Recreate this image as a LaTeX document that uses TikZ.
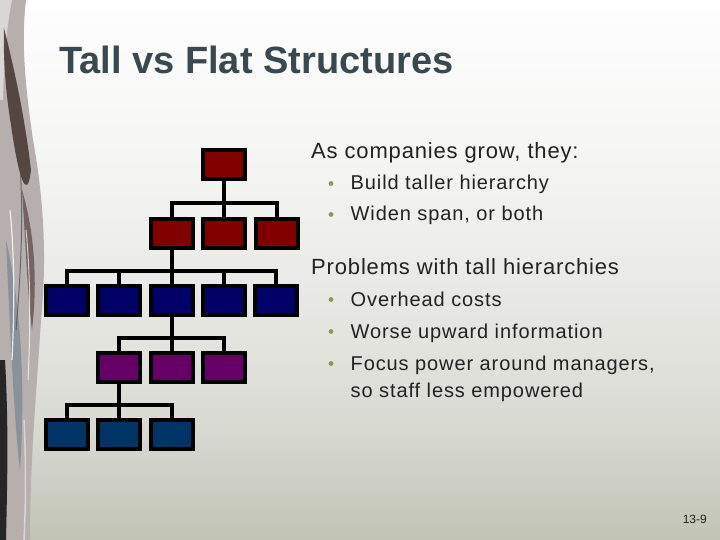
\documentclass[tikz,border=0pt]{standalone}
\usepackage{fontspec}
\setmainfont{Liberation Sans}
\newfontfamily\levelone[LetterSpace=3.8]{Liberation Sans}
\newfontfamily\leveltwo[LetterSpace=4.5]{Liberation Sans}
\definecolor{bg0}{HTML}{C2C4B6}
\definecolor{bg1}{HTML}{CDCFC4}
\definecolor{bg2}{HTML}{D6D8D0}
\definecolor{bg3}{HTML}{E2E3DD}
\definecolor{bg4}{HTML}{EDEDEA}
\definecolor{bg5}{HTML}{F8F8F7}
\definecolor{bg6}{HTML}{FEFEFE}
\definecolor{titlecol}{HTML}{3A494F}
\definecolor{textcol}{HTML}{222222}
\definecolor{bulletcol}{HTML}{8A9A52}
\definecolor{redbox}{HTML}{800000}
\definecolor{navybox}{HTML}{000066}
\definecolor{purplebox}{HTML}{660066}
\definecolor{bluebox}{HTML}{003366}
\definecolor{silver}{HTML}{B7AEAE}
\definecolor{darkstreak}{HTML}{46342F}
\definecolor{bluestreak}{HTML}{6C7F8C}
\pgfdeclareverticalshading{slidebg}{100bp}{color(0bp)=(bg0); color(25bp)=(bg0); color(30.6bp)=(bg1); color(34.3bp)=(bg2); color(42.6bp)=(bg3); color(51.9bp)=(bg4); color(63.9bp)=(bg5); color(75bp)=(bg6); color(100bp)=(bg6)}
\begin{document}
\begin{tikzpicture}[x=1pt,y=-1pt,
  box/.style={draw=black, line width=4pt, minimum width=42pt, minimum height=29pt, inner sep=0pt},
  link/.style={draw=black, line width=4.3pt, line join=miter},
  lone/.style={anchor=base west, inner sep=0pt, text=textcol, font=\levelone\fontsize{22}{26}\selectfont},
  ltwo/.style={anchor=base west, inner sep=0pt, text=textcol, font=\leveltwo\fontsize{20}{24}\selectfont},
  dot/.style={fill=bulletcol}]
\useasboundingbox (0,0) rectangle (720,540);
\shade[shading=slidebg] (0,0) rectangle (720,540);
% left decorative strip
\fill[silver] (0,0) -- (26,0) .. controls (21,40) and (25,85) .. (33,140) .. controls (44,200) and (47,260) .. (41,320) .. controls (36,400) and (30,460) .. (30,540) -- (0,540) -- cycle;
\fill[white,opacity=0.5] (0,0) -- (12,0) .. controls (6,30) and (4,60) .. (3,100) -- (0,100) -- cycle;
\fill[darkstreak,opacity=0.85] (4,28) .. controls (12,60) and (24,110) .. (31,170) .. controls (27,205) and (18,175) .. (11,125) .. controls (6,95) and (3,60) .. cycle;
\fill[darkstreak,opacity=0.6] (22,190) .. controls (34,230) and (38,280) .. (32,330) .. controls (28,300) and (26,250) .. cycle;
\fill[bluestreak,opacity=0.6] (6,240) .. controls (20,300) and (26,380) .. (20,470) .. controls (14,420) and (10,330) .. cycle;
\fill[black!85] (0,360) -- (5,360) .. controls (9,430) and (7,490) .. (6,540) -- (0,540) -- cycle;
\draw[white,line width=1.2pt,opacity=0.8] (10,210) .. controls (14,250) and (15,300) .. (12,360);
\draw[white,line width=1pt,opacity=0.7] (26,230) .. controls (30,270) and (31,320) .. (28,380);
\draw[black!70,line width=1pt,opacity=0.7] (18,140) .. controls (24,200) and (22,260) .. (16,330);
\draw[white!80!silver,line width=1.5pt,opacity=0.6] (24,420) .. controls (26,460) and (26,500) .. (24,540);
% title
\node[anchor=base west, inner sep=0pt, text=titlecol, font=\fontsize{38}{42}\selectfont\bfseries] (title) at (59,74) {Tall vs Flat Structures};
% text
\node[lone] (as) at (311,159) {As companies grow, they:};
\node[ltwo] (build) at (350.5,190) {Build taller hierarchy};
\node[ltwo] (widen) at (350.5,221) {Widen span, or both};
\node[lone] (prob) at (311,274) {Problems with tall hierarchies};
\node[ltwo] (over) at (350.5,306) {Overhead costs};
\node[ltwo] (worse) at (350.5,338) {Worse upward information};
\node[ltwo] (focus) at (350.5,370) {Focus power around managers,};
\node[ltwo] (staff) at (350.5,397) {so staff less empowered};
\fill[dot] (331,183.5) circle (2.4);
\fill[dot] (331,214.5) circle (2.4);
\fill[dot] (331,299.5) circle (2.4);
\fill[dot] (331,331.5) circle (2.4);
\fill[dot] (331,363.5) circle (2.4);
\node[anchor=base east, inner sep=0pt, text=textcol, font=\fontsize{12}{14}\selectfont] (page) at (707,523) {13-9};
% org chart boxes
\node[box, fill=redbox] (t) at (224,164.5) {};
\node[box, fill=redbox] (r2a) at (172,233.5) {};
\node[box, fill=redbox] (r2b) at (224,233.5) {};
\node[box, fill=redbox] (r2c) at (277,233.5) {};
\node[box, fill=navybox] (r3a) at (67,300) {};
\node[box, fill=navybox] (r3b) at (119,300) {};
\node[box, fill=navybox] (r3c) at (172,300) {};
\node[box, fill=navybox] (r3d) at (224,300) {};
\node[box, fill=navybox] (r3e) at (276,300) {};
\node[box, fill=purplebox] (r4a) at (119,367.5) {};
\node[box, fill=purplebox] (r4b) at (172,367.5) {};
\node[box, fill=purplebox] (r4c) at (224,367.5) {};
\node[box, fill=bluebox] (r5a) at (67,434.5) {};
\node[box, fill=bluebox] (r5b) at (119,434.5) {};
\node[box, fill=bluebox] (r5c) at (172,434.5) {};
% org chart coordinates
\coordinate (b1) at (224,203);
\coordinate (b2) at (172,271);
\coordinate (b3) at (172,338);
\coordinate (b4) at (119,405);
% connectors
\path[link] (t) -- (r2b);
\path[link] (r2a) |- (b1) -| (r2c);
\path[link] (r2a) -- (r3c);
\path[link] (r3a) |- (b2) -| (r3e);
\path[link] (r3b) -- (r3b |- b2);
\path[link] (r3d) -- (r3d |- b2);
\path[link] (r3c) -- (r4b);
\path[link] (r4a) |- (b3) -| (r4c);
\path[link] (r4a) -- (r5b);
\path[link] (r5a) |- (b4) -| (r5c);
\end{tikzpicture}
\end{document}
